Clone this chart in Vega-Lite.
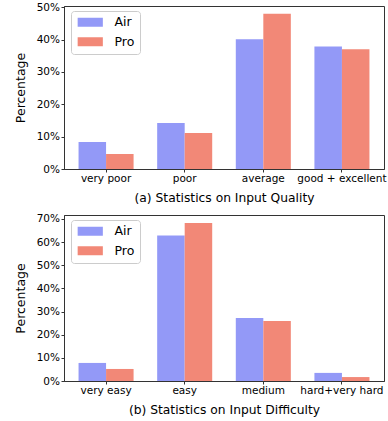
{
  "$schema": "https://vega.github.io/schema/vega-lite/v6.json",
  "padding": {"left": 13, "top": 1, "right": 2, "bottom": 2},
  "spacing": 9,
  "resolve": {"legend": {"color": "independent"}},
  "config": {
    "font": "DejaVu Sans",
    "view": {"stroke": "#333", "strokeWidth": 1},
    "axis": {"grid": false, "domainColor": "#333", "tickColor": "#333", "labelColor": "black", "titleColor": "black", "titleFontWeight": "normal", "tickSize": 3, "labelFontSize": 10.5},
    "legend": {"padding": 5, "rowPadding": 6.5, "symbolOffset": 8, "labelOffset": 18, "labelFontSize": 12.5, "labelColor": "black", "fillColor": "white", "strokeColor": "#cccccc", "cornerRadius": 3, "symbolType": "M-2.8,-1H2.8V1H-2.8Z", "symbolSize": 81, "symbolStrokeWidth": 0, "symbolOpacity": 1}
  },
  "vconcat": [
    {
      "width": 320,
      "height": 163,
      "data": {"values": [
        {"cat": "very poor", "model": "Air", "value": 8.35},
        {"cat": "very poor", "model": "Pro", "value": 4.64},
        {"cat": "poor", "model": "Air", "value": 14.2},
        {"cat": "poor", "model": "Pro", "value": 11.1},
        {"cat": "average", "model": "Air", "value": 40.1},
        {"cat": "average", "model": "Pro", "value": 48.0},
        {"cat": "good + excellent", "model": "Air", "value": 37.9},
        {"cat": "good + excellent", "model": "Pro", "value": 37.0}
      ]},
      "mark": {"type": "bar"},
      "encoding": {
        "x": {"field": "cat", "type": "nominal", "sort": null,
              "scale": {"paddingInner": 0.3, "paddingOuter": 0.185},
              "axis": {"labelAngle": 0, "title": "(a) Statistics on Input Quality", "titleFontSize": 12.3, "titlePadding": 7, "labelPadding": 1.5}},
        "xOffset": {"field": "model", "type": "nominal", "sort": ["Air", "Pro"]},
        "y": {"field": "value", "type": "quantitative",
              "scale": {"domain": [0, 50.4], "nice": false},
              "axis": {"values": [0, 10, 20, 30, 40, 50], "labelExpr": "datum.value + '%'", "title": "Percentage", "titleFontSize": 12.5, "titlePadding": 9, "labelPadding": 1.5}},
        "color": {"field": "model", "type": "nominal",
                  "scale": {"domain": ["Air", "Pro"], "range": ["#9399F7", "#F28877"]},
                  "legend": {"title": null, "orient": "none", "legendX": 7, "legendY": 5}}
      }
    },
    {
      "width": 320,
      "height": 166,
      "data": {"values": [
        {"cat": "very easy", "model": "Air", "value": 7.8},
        {"cat": "very easy", "model": "Pro", "value": 5.2},
        {"cat": "easy", "model": "Air", "value": 62.8},
        {"cat": "easy", "model": "Pro", "value": 68.25},
        {"cat": "medium", "model": "Air", "value": 27.2},
        {"cat": "medium", "model": "Pro", "value": 25.9},
        {"cat": "hard+very hard", "model": "Air", "value": 3.5},
        {"cat": "hard+very hard", "model": "Pro", "value": 1.7}
      ]},
      "mark": {"type": "bar"},
      "encoding": {
        "x": {"field": "cat", "type": "nominal", "sort": null,
              "scale": {"paddingInner": 0.3, "paddingOuter": 0.185},
              "axis": {"labelAngle": 0, "title": "(b) Statistics on Input Difficulty", "titleFontSize": 12.3, "titlePadding": 7, "labelPadding": 1.5}},
        "xOffset": {"field": "model", "type": "nominal", "sort": ["Air", "Pro"]},
        "y": {"field": "value", "type": "quantitative",
              "scale": {"domain": [0, 71.7], "nice": false},
              "axis": {"values": [0, 10, 20, 30, 40, 50, 60, 70], "labelExpr": "datum.value + '%'", "title": "Percentage", "titleFontSize": 12.5, "titlePadding": 9, "labelPadding": 1.5}},
        "color": {"field": "model", "type": "nominal",
                  "scale": {"domain": ["Air", "Pro"], "range": ["#9399F7", "#F28877"]},
                  "legend": {"title": null, "orient": "none", "legendX": 7, "legendY": 5}}
      }
    }
  ]
}
